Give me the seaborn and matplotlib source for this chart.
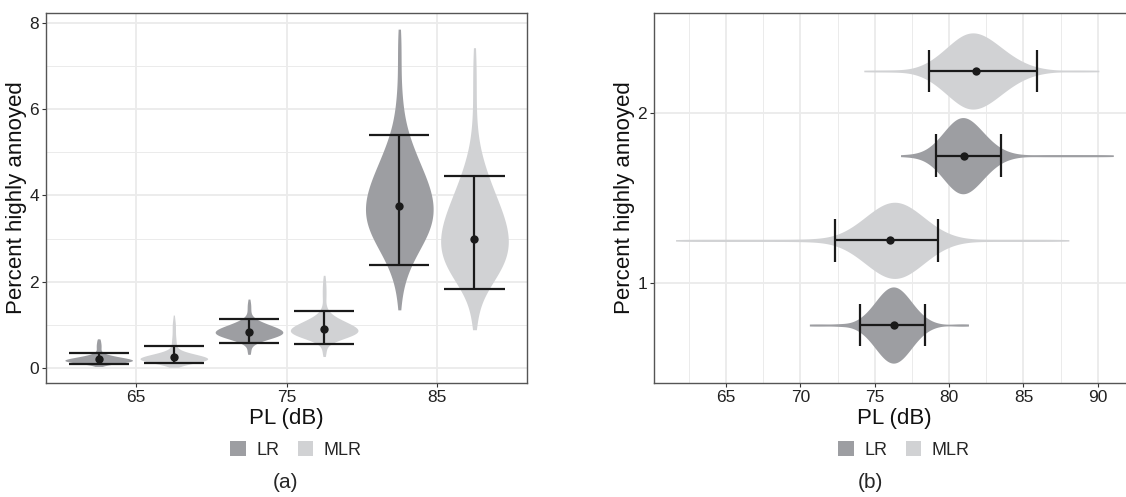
import numpy as np
import pandas as pd
import matplotlib.pyplot as plt
import seaborn as sns

# categories
models = ["LR", "MLR"]
left_pl = [65, 75, 85]
right_grp = [1, 2]

# (a) percent highly annoyed: sample values and how often each was seen
lr_65_val = [0.04, 0.06, 0.08, 0.10, 0.12, 0.14, 0.16, 0.18, 0.20, 0.22, 0.24, 0.26, 0.28,
             0.30, 0.32, 0.34, 0.36, 0.38, 0.40, 0.44, 0.48, 0.52, 0.56, 0.60, 0.64, 0.68]
lr_65_n = [2, 4, 8, 15, 24, 33, 39, 40, 37, 33, 27, 21, 16, 11, 8, 6, 4, 3, 3, 5, 5, 5, 5, 4, 4, 3]
mlr_65_val = [0.02, 0.05, 0.075, 0.10, 0.125, 0.15, 0.175, 0.20, 0.225, 0.25, 0.275, 0.30,
              0.325, 0.35, 0.375, 0.40, 0.425, 0.45, 0.50, 0.55, 0.60, 0.65, 0.70, 0.75,
              0.80, 0.85, 0.90, 0.95, 1.00, 1.05, 1.10, 1.15, 1.23]
mlr_65_n = [2, 3, 6, 11, 19, 29, 37, 40, 39, 35, 30, 24, 18, 13, 9, 6, 4, 3, 5, 5, 4, 4, 4,
            3, 3, 3, 3, 3, 3, 3, 2, 2, 2]
lr_75_val = [0.32, 0.37, 0.42, 0.47, 0.52, 0.57, 0.62, 0.67, 0.72, 0.77, 0.82, 0.87, 0.92,
             0.97, 1.02, 1.07, 1.12, 1.17, 1.22, 1.27, 1.32, 1.37, 1.42, 1.47, 1.52, 1.60]
lr_75_n = [2, 2, 2, 2, 3, 7, 12, 21, 30, 37, 40, 38, 34, 27, 20, 14, 9, 5, 3, 2, 2, 2, 2, 2, 2, 2]
mlr_75_val = [0.27, 0.34, 0.39, 0.44, 0.49, 0.54, 0.59, 0.64, 0.69, 0.74, 0.79, 0.84, 0.89,
              0.94, 0.99, 1.04, 1.09, 1.14, 1.19, 1.24, 1.29, 1.34, 1.39, 1.44, 1.49, 1.59,
              1.69, 1.79, 1.89, 1.99, 2.07, 2.15]
mlr_75_n = [2, 3, 2, 2, 2, 3, 7, 12, 21, 30, 37, 40, 39, 36, 32, 26, 21, 16, 11, 8, 5, 4, 3,
            2, 2, 4, 4, 4, 4, 3, 2, 2]
lr_85_val = [1.35, 1.60, 1.85, 2.10, 2.35, 2.60, 2.85, 3.10, 3.35, 3.60, 3.85, 4.10, 4.35,
             4.60, 4.85, 5.10, 5.35, 5.60, 5.85, 6.10, 6.35, 6.60, 6.85, 7.10, 7.35, 7.60, 7.85]
lr_85_n = [2, 2, 4, 7, 12, 18, 26, 33, 38, 40, 39, 36, 32, 26, 21, 16, 11, 8, 5, 4, 3, 2, 2,
           2, 2, 2, 2]
mlr_85_val = [0.89, 1.10, 1.35, 1.60, 1.85, 2.10, 2.35, 2.60, 2.85, 3.10, 3.35, 3.60, 3.85,
              4.10, 4.35, 4.60, 4.85, 5.10, 5.35, 5.60, 5.85, 6.10, 6.35, 6.60, 6.85, 7.10, 7.42]
mlr_85_n = [2, 3, 4, 8, 15, 25, 33, 38, 40, 39, 36, 32, 27, 22, 17, 13, 9, 6, 4, 3, 2, 2, 2,
            2, 2, 2, 2]

# (a) mean and interval
left_mean_lr = [0.21, 0.84, 3.75]
left_lo_lr = [0.10, 0.59, 2.39]
left_hi_lr = [0.36, 1.14, 5.40]
left_mean_mlr = [0.25, 0.90, 2.99]
left_lo_mlr = [0.11, 0.57, 1.84]
left_hi_mlr = [0.52, 1.33, 4.46]

# (b) PL (dB) for 1 % and 2 % highly annoyed
lr_1_val = [70.6, 71.5, 72.5, 73.0, 73.5, 74.0, 74.5, 75.0, 75.5, 76.0, 76.5, 77.0, 77.5,
            78.0, 78.5, 79.0, 79.5, 80.5, 81.3]
lr_1_n = [2, 2, 2, 1, 2, 6, 12, 22, 33, 40, 40, 33, 22, 12, 6, 2, 1, 2, 2]
mlr_1_val = [61.6, 62.6, 63.6, 64.6, 65.6, 66.6, 67.6, 68.6, 69.6, 70.6, 71.0, 71.5, 72.0,
             72.5, 73.0, 73.5, 74.0, 74.5, 75.0, 75.5, 76.0, 76.5, 77.0, 77.5, 78.0, 78.5,
             79.0, 79.5, 80.0, 80.5, 81.0, 82.0, 83.0, 84.0, 85.0, 86.0, 87.0, 88.05]
mlr_1_n = [2, 2, 2, 2, 2, 2, 2, 2, 2, 2, 1, 1, 2, 3, 6, 10, 15, 22, 29, 35, 39, 40, 37, 31,
           24, 17, 11, 7, 4, 2, 1, 2, 2, 2, 2, 2, 2, 2]
lr_2_val = [76.73, 77.5, 78.0, 78.5, 79.0, 79.5, 80.0, 80.5, 81.0, 81.5, 82.0, 82.5, 83.0,
            83.5, 84.0, 84.5, 85.0, 86.0, 87.0, 88.0, 89.0, 90.0, 91.04]
lr_2_n = [2, 1, 2, 4, 9, 18, 29, 38, 40, 35, 26, 17, 10, 5, 3, 1, 1, 2, 2, 2, 2, 2, 2]
mlr_2_val = [74.26, 75.3, 76.3, 77.0, 77.5, 78.0, 78.5, 79.0, 79.5, 80.0, 80.5, 81.0, 81.5,
             82.0, 82.5, 83.0, 83.5, 84.0, 84.5, 85.0, 85.5, 86.0, 86.5, 87.0, 88.0, 89.0, 90.07]
mlr_2_n = [2, 2, 2, 1, 2, 4, 7, 12, 18, 25, 32, 38, 40, 38, 35, 29, 23, 17, 12, 8, 5, 3, 2,
           1, 2, 2, 2]

right_mean_lr = [76.28, 81.02]
right_lo_lr = [74.02, 79.10]
right_hi_lr = [78.35, 83.52]
right_mean_mlr = [76.01, 81.84]
right_lo_mlr = [72.33, 78.66]
right_hi_mlr = [79.27, 85.93]

colors = ["#9d9ea2", "#d1d2d4"]
ink = "#1a1a1a"


def long_table(keys, lr_sets, mlr_sets, key_col, val_col):
    parts = []
    for k, (lv, ln), (mv, mn) in zip(keys, lr_sets, mlr_sets):
        parts.append(pd.DataFrame({key_col: k, "model": "LR", val_col: np.repeat(lv, ln)}))
        parts.append(pd.DataFrame({key_col: k, "model": "MLR", val_col: np.repeat(mv, mn)}))
    return pd.concat(parts, ignore_index=True)


left_df = long_table(left_pl,
                     [(lr_65_val, lr_65_n), (lr_75_val, lr_75_n), (lr_85_val, lr_85_n)],
                     [(mlr_65_val, mlr_65_n), (mlr_75_val, mlr_75_n), (mlr_85_val, mlr_85_n)],
                     "PL", "pha")
right_df = long_table(right_grp,
                      [(lr_1_val, lr_1_n), (lr_2_val, lr_2_n)],
                      [(mlr_1_val, mlr_1_n), (mlr_2_val, mlr_2_n)],
                      "grp", "PL")

sns.set_style("white")
plt.rcParams["font.family"] = ["Liberation Sans", "DejaVu Sans"]

fig = plt.figure(figsize=(11.26, 4.97), dpi=100)
ax1 = fig.add_axes([0.0409, 0.2288, 0.4272, 0.7456])
ax2 = fig.add_axes([0.5808, 0.2288, 0.4272, 0.7456])

vkw = dict(hue="model", hue_order=models, palette=colors, native_scale=True,
           density_norm="width", cut=0, inner=None, width=1.0, gap=0.1,
           linewidth=0, saturation=1, bw_adjust=1.0, gridsize=200)

# (a)
sns.violinplot(data=left_df, x="PL", y="pha", ax=ax1, **vkw)
slot = 10 / len(models)
for i, (m, lo, hi) in enumerate([(left_mean_lr, left_lo_lr, left_hi_lr),
                                 (left_mean_mlr, left_lo_mlr, left_hi_mlr)]):
    xs = np.array(left_pl) + (i - 0.5) * slot
    ax1.vlines(xs, lo, hi, color=ink, lw=1.6, zorder=3)
    ax1.hlines(lo, xs - 2, xs + 2, color=ink, lw=1.6, zorder=3)
    ax1.hlines(hi, xs - 2, xs + 2, color=ink, lw=1.6, zorder=3)
    ax1.scatter(xs, m, s=36, color=ink, zorder=4, linewidths=0)

ax1.set_xlim(59.0, 91.0)
ax1.set_ylim(-0.35, 8.23)
ax1.set_xticks(left_pl)
ax1.set_yticks([0, 2, 4, 6, 8])
ax1.set_yticks([1, 3, 5, 7], minor=True)

# (b)
sns.violinplot(data=right_df, x="PL", y="grp", orient="y", ax=ax2, **vkw)
slot = 1 / len(models)
for i, (m, lo, hi) in enumerate([(right_mean_lr, right_lo_lr, right_hi_lr),
                                 (right_mean_mlr, right_lo_mlr, right_hi_mlr)]):
    ys = np.array(right_grp) + (i - 0.5) * slot
    ax2.hlines(ys, lo, hi, color=ink, lw=1.6, zorder=3)
    ax2.vlines(lo, ys - 0.125, ys + 0.125, color=ink, lw=1.6, zorder=3)
    ax2.vlines(hi, ys - 0.125, ys + 0.125, color=ink, lw=1.6, zorder=3)
    ax2.scatter(m, ys, s=36, color=ink, zorder=4, linewidths=0)

ax2.set_xlim(60.15, 92.5)
ax2.set_ylim(0.406, 2.594)
ax2.set_xticks([65, 70, 75, 80, 85, 90])
ax2.set_xticks(np.arange(62.5, 92.5, 5), minor=True)
ax2.set_yticks(right_grp)

for ax in (ax1, ax2):
    ax.set_axisbelow(True)
    ax.grid(which="major", color="#ebebeb", lw=1.3)
    ax.grid(which="minor", color="#ebebeb", lw=0.7)
    for s in ax.spines.values():
        s.set_color("#555555")
        s.set_linewidth(1.0)
    ax.tick_params(which="major", length=3, width=0.8, color="#333333",
                   labelsize=12.5, labelcolor="#222222", pad=2, bottom=True, left=True)
    ax.tick_params(which="minor", length=0)
    ax.set_xlabel("PL (dB)", fontsize=16, color="#111111", labelpad=2)
    ax.set_ylabel("Percent highly annoyed", fontsize=16, color="#111111", labelpad=2)
    sns.move_legend(ax, "center", bbox_to_anchor=(0.52, -0.18), ncol=2, title=None,
                    frameon=False, fontsize=13, handlelength=0.85, handleheight=0.85,
                    handletextpad=0.6, columnspacing=1.0)

fig.text(285 / 1126, 1 - 483 / 497, "(a)", ha="center", va="center", fontsize=15)
fig.text(870 / 1126, 1 - 483 / 497, "(b)", ha="center", va="center", fontsize=15)

fig.savefig("out.png", dpi=100)
